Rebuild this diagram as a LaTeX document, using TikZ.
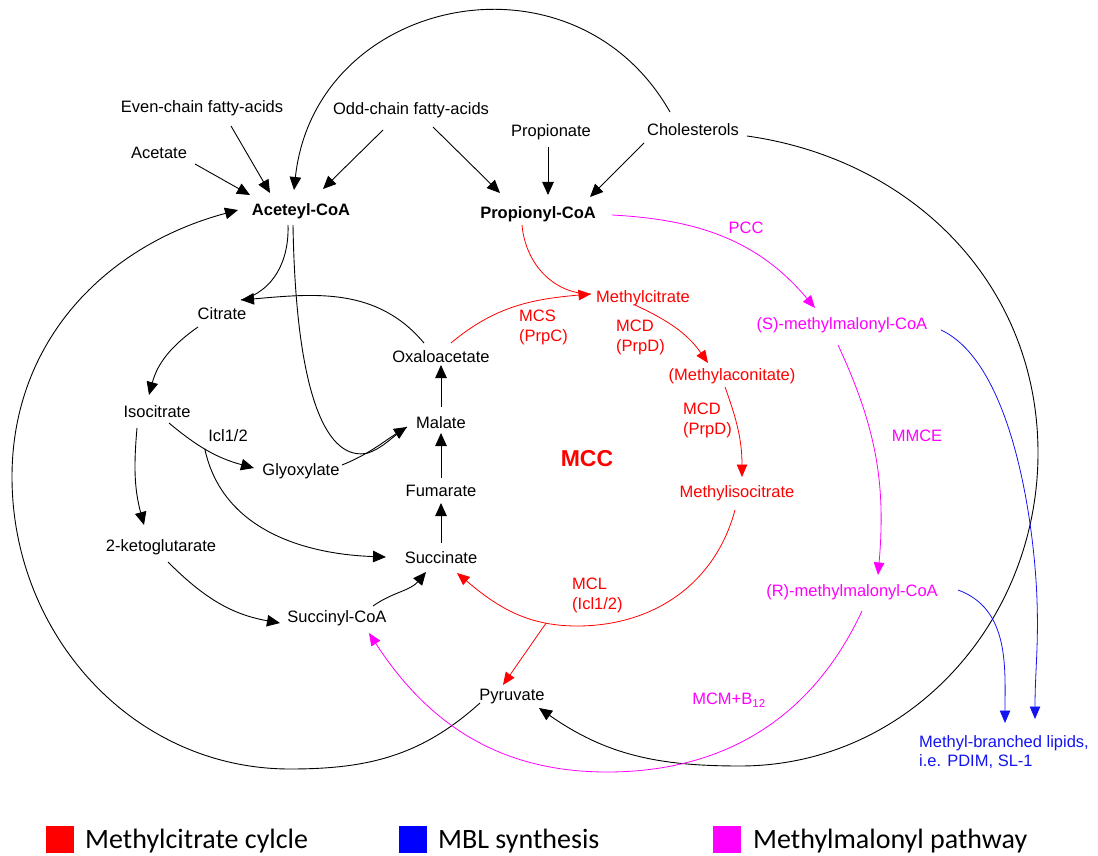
\documentclass[tikz,border=0pt]{standalone}
\usepackage{fontspec}
\setmainfont{Liberation Sans}
\newfontfamily\legfont{Carlito}
\usetikzlibrary{arrows.meta,calc}
\definecolor{mred}{RGB}{255,0,0}
\definecolor{mmag}{RGB}{255,0,255}
\definecolor{mblue}{RGB}{20,20,240}
\begin{document}
\begin{tikzpicture}[x=1pt,y=1pt,
  lbl/.style={inner sep=0pt, font=\fontsize{16.5}{20}\selectfont},
  bld/.style={lbl, font=\fontsize{16.5}{20}\selectfont\bfseries},
  lbll/.style={lbl, align=left, anchor=west},
  ln/.style={line width=0.9pt},
  arr/.style={ln, -{Triangle[length=13pt,width=11.5pt]}},
  carr/.style={line width=0.8pt, -{Triangle[length=12.5pt,width=10.5pt]}},
  redl/.style={line width=0.8pt, draw=mred},
  reda/.style={carr, draw=mred},
  maga/.style={carr, draw=mmag},
  blua/.style={carr, draw=mblue},
  legsq/.style={draw=none, minimum width=28pt, minimum height=27pt, inner sep=0pt},
  legtx/.style={inner sep=0pt, anchor=base west, font=\legfont\fontsize{28}{32}\selectfont}
]
\useasboundingbox (0,0) rectangle (1098,-856);

% ---------- nodes ----------
\node[lbl] (even)  at (202,-108) {Even-chain fatty-acids};
\node[lbl] (acet)  at (159,-153) {Acetate};
\node[lbl] (odd)   at (411,-110) {Odd-chain fatty-acids};
\node[lbl] (propn) at (551,-132) {Propionate};
\node[lbl] (chol)  at (693,-130) {Cholesterols};
\node[bld] (ace)   at (301,-211) {Aceteyl-CoA};
\node[bld] (prop)  at (538,-214) {Propionyl-CoA};
\node[lbl, text=mmag] (pcc) at (746,-228) {PCC};
\node[lbl] (cit)   at (222,-314) {Citrate};
\node[lbl, text=mred] (mcit) at (643,-298) {Methylcitrate};
\node[lbll, text=mred] (mcs)  at (519,-327) {MCS\\(PrpC)};
\node[lbll, text=mred] (mcd1) at (616,-337) {MCD\\(PrpD)};
\node[lbl, text=mmag] (sm) at (842,-325) {(S)-methylmalonyl-CoA};
\node[lbl] (oxa)   at (441,-357) {Oxaloacetate};
\node[lbl, text=mred] (maco) at (732,-376) {(Methylaconitate)};
\node[lbl] (iso)   at (157,-412) {Isocitrate};
\node[lbll, text=mred] (mcd2) at (683,-420) {MCD\\(PrpD)};
\node[lbl, text=mmag] (mmce) at (917,-436) {MMCE};
\node[lbl] (mal)   at (441,-423) {Malate};
\node[lbl] (icl)   at (228,-436) {Icl1/2};
\node[inner sep=0pt, text=mred, font=\fontsize{23}{26}\selectfont\bfseries] (mcc) at (587,-459) {MCC};
\node[lbl] (gly)   at (301,-471) {Glyoxylate};
\node[lbl] (fum)   at (441,-491) {Fumarate};
\node[lbl, text=mred] (misc) at (737,-493) {Methylisocitrate};
\node[lbl] (kg)    at (161,-547) {2-ketoglutarate};
\node[lbl] (suc)   at (441,-558) {Succinate};
\node[lbl, text=mmag] (rm) at (852,-592) {(R)-methylmalonyl-CoA};
\node[lbll, text=mred] (mcl) at (572,-595) {MCL\\(Icl1/2)};
\node[lbl] (sca)   at (337,-618) {Succinyl-CoA};
\node[lbl] (pyr)   at (512,-697) {Pyruvate};
\node[lbl, text=mmag] (mcm) at (729,-700) {MCM+B\textsubscript{12}};
\node[lbll, text=mblue, font=\fontsize{16.5}{19.5}\selectfont] (mbl) at (919,-752) {Methyl-branched lipids,\\i.e. PDIM, SL-1};

% ---------- black connectors ----------
\draw[arr] ($(acet)+(36,-11)$) -- ($(ace)+(-51,16)$);
\draw[arr] ($(even)+(29,-18)$) -- ($(ace)+(-31,18)$);
\draw[arr] ($(odd)+(-28,-20)$) -- ($(ace)+(22,22)$);
\draw[arr] ($(odd)+(22,-17)$) -- ($(prop)+(-38,21)$);
\draw[arr] ($(propn)+(-3,-15)$) -- ($(prop)+(10,19)$);
\draw[arr] ($(chol)+(-49,-13)$) -- ($(prop)+(52,17)$);
% cholesterols -> acetyl-CoA (top arc)
\draw[arr] ($(chol)+(-23,18)$) to[out=119.6,in=83.8,looseness=1.30] ($(ace)+(-7,21)$);
% cholesterols -> pyruvate (right arc)
\coordinate (cr1) at (1038,-453);
\coordinate (cr2) at (740,-766);
\draw[arr] ($(chol)+(54,-6)$) to[out=-8,in=90] (cr1) to[out=-90,in=0] (cr2) to[out=180,in=-35] ($(pyr)+(27,-11)$);
% pyruvate -> acetyl-CoA (left arc)
\coordinate (cl1) at (290,-769);
\coordinate (cl2) at (12,-477);
\draw[arr] ($(pyr)+(-32,-6)$) to[out=-138,in=0] (cl1) to[out=180,in=-90] (cl2) to[out=90,in=195] ($(ace)+(-63,1)$);
% acetyl-CoA -> citrate, oxaloacetate -> citrate
\draw[ln] ($(ace)+(-13,-14)$) to[out=-88,in=15] ($(cit)+(19,14)$);
\draw[arr] ($(oxa)+(-17,14)$) to[out=130,in=5] ($(cit)+(19,14)$);
% citrate -> isocitrate
\draw[arr] ($(cit)+(-24,-13)$) to[out=215,in=75] ($(iso)+(-8,17)$);
% isocitrate -> 2-ketoglutarate
\draw[arr] ($(iso)+(-20,-16)$) to[out=-95,in=105] ($(kg)+(-17,22)$);
% isocitrate -> glyoxylate (Icl1/2)
\draw[arr] ($(iso)+(12,-11)$) to[out=-40,in=165] node[coordinate,pos=0.45] (br) {} ($(gly)+(-47,3)$);
\draw[arr] (br) to[out=-78,in=178] ($(suc)+(-55,1)$);
% glyoxylate -> malate, acetyl-CoA -> malate
\coordinate (mg2) at (368,-453);
\draw[ln] ($(ace)+(-8,-14)$) .. controls (296,-400) and (328,-462) .. (mg2) to[out=20,in=212] ($(mal)+(-34,-4)$);
\draw[arr] ($(gly)+(41,6)$) to[out=22,in=212] ($(mal)+(-34,-4)$);
% 2-kg -> succinyl-CoA -> succinate
\draw[arr] ($(kg)+(7,-15)$) to[out=-45,in=170] ($(sca)+(-57,-5)$);
\draw[arr] ($(sca)+(36,12)$) to[out=35,in=230] ($(suc)+(-15,-14)$);
% TCA vertical
\draw[arr] ($(suc)+(0,15)$) -- ($(fum)+(0,-12)$);
\draw[arr] ($(fum)+(0,13)$) -- ($(mal)+(0,-10)$);
\draw[arr] ($(mal)+(0,16)$) -- ($(oxa)+(0,-8)$);

% ---------- red (methylcitrate cycle) ----------
\draw[redl] ($(prop)+(-16,-11)$) to[out=-85,in=180] ($(mcit)+(-52,4)$);
\draw[reda] ($(oxa)+(10,14)$) to[out=40,in=185] ($(mcit)+(-52,4)$);
\draw[reda] ($(mcit)+(-8,-7)$) to[out=-25,in=125] ($(maco)+(-24,13)$);
\draw[reda] ($(maco)+(-7,-11)$) to[out=-70,in=90] ($(misc)+(5,16)$);
\coordinate (rb) at (577,-626);
\draw[reda] ($(misc)+(-2,-17)$) to[out=-105,in=0] (rb) to[out=180,in=-40] node[coordinate,pos=0.22] (rbr) {} ($(suc)+(16,-15)$);
\draw[reda] (rbr) -- ($(pyr)+(-9,12)$);

% ---------- magenta (methylmalonyl pathway) ----------
\draw[maga] ($(prop)+(74,-1)$) to[out=-3,in=130] ($(sm)+(-27,17)$);
\draw[maga] ($(sm)+(-4,-20)$) to[out=-65,in=85] ($(rm)+(26,17)$);
\coordinate (mb) at (607,-772);
\draw[maga] ($(rm)+(10,-19)$) to[out=-115,in=0] (mb) to[out=180,in=-57] ($(sca)+(32,-15)$);

% ---------- blue (MBL synthesis) ----------
\coordinate (bb) at (1037,-600);
\draw[blua] ($(sm)+(99,-5)$) to[out=-25,in=92,looseness=0.7] (bb) to[out=-88,in=90] ($(mbl.west)+(116,33)$);
\draw[blua] ($(rm)+(106,2)$) to[out=-20,in=90] ($(mbl.west)+(86,29)$);

% ---------- legend ----------
\node[legsq, fill=mred, anchor=north west] (lsq1) at (46,-826) {};
\node[legtx] (lt1) at (85,-848) {Methylcitrate cylcle};
\node[legsq, fill=blue, anchor=north west] (lsq2) at (399,-826) {};
\node[legtx] (lt2) at (438,-848) {MBL synthesis};
\node[legsq, fill=mmag, anchor=north west] (lsq3) at (713,-826) {};
\node[legtx] (lt3) at (753,-848) {Methylmalonyl pathway};
\end{tikzpicture}
\end{document}
